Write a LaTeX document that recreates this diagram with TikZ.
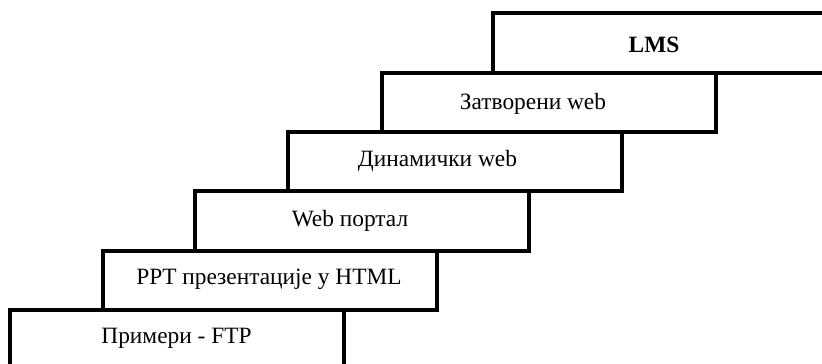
\documentclass[tikz,border=0pt]{standalone}
\usepackage{fontspec}
\setmainfont{Liberation Serif}

\begin{document}
\begin{tikzpicture}[stair/.style={line width=2.3pt, line join=miter},
   steptext/.style={anchor=base, inner sep=0pt, font=\fontsize{13.3}{15}\selectfont}]
   \useasboundingbox (0,0) rectangle (16.44,7.28);
   % stairs, bottom to top
   \draw[stair] (.2,-.3) rectangle (6.88,1.08);
   \draw[stair] (2.06,1.08) rectangle (8.74,2.26);
   \draw[stair] (3.9,2.26) rectangle (10.58,3.46);
   \draw[stair] (5.76,3.46) rectangle (12.44,4.64);
   \draw[stair] (7.64,4.64) rectangle (14.32,5.82);
   \draw[stair] (9.86,5.82) rectangle (16.8,7.02);
   \node[steptext] (ftp) at (3.53,.4) {Примери - FTP};
   \node[steptext] (ppt) at (5.38,1.58) {PPT презентације у HTML};
   \node[steptext] (portal) at (7.0,2.75) {Web портал};
   \node[steptext] (dyn) at (8.75,3.94) {Динамички web};
   \node[steptext] (closed) at (10.66,5.08) {Затворени web};
   \node[steptext, font=\fontsize{13.3}{15}\selectfont\bfseries] (lms) at (13.08,6.22) {LMS};
\end{tikzpicture}
\end{document}
